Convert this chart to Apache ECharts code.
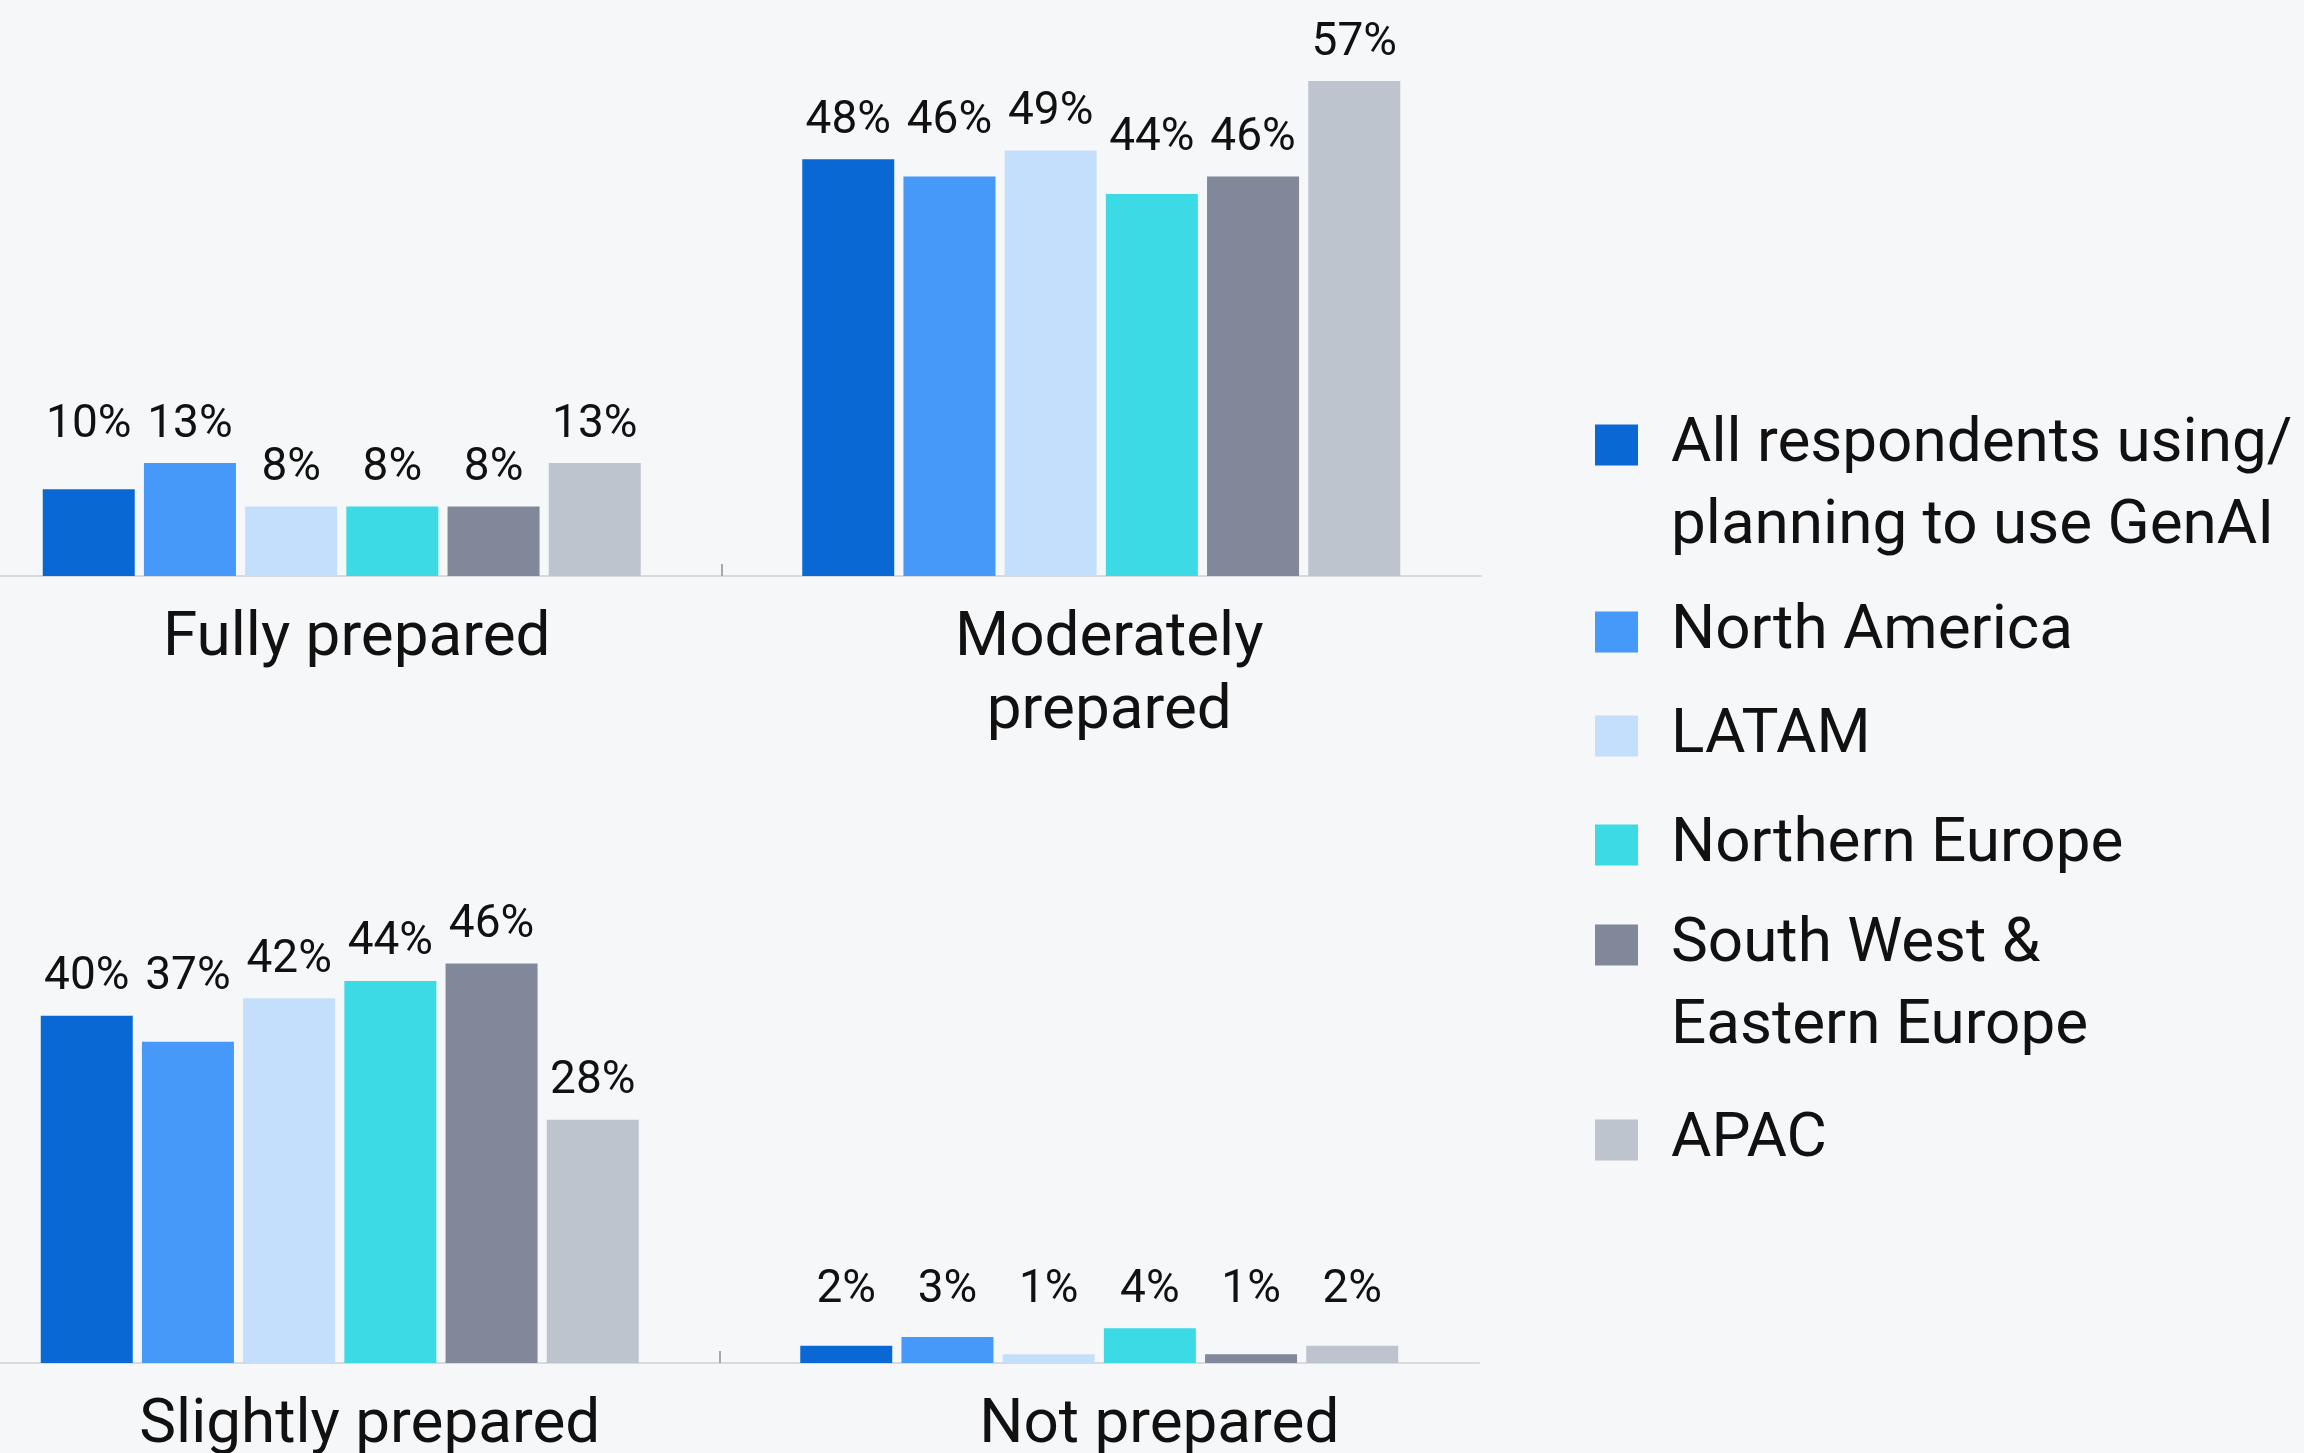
<!DOCTYPE html>
<html><head><meta charset="utf-8">
<script src="https://cdn.jsdelivr.net/npm/echarts@6/dist/echarts.min.js"></script>
<style>html,body{margin:0;padding:0;background:#F6F7F9;} #c{width:2304px;height:1453px;}</style>
</head><body><div id="c"></div>
<script>
// ---- data ----
const categoriesTop = ['Fully prepared', 'Moderately\nprepared'];
const categoriesBottom = ['Slightly prepared', 'Not prepared'];
const seriesNames = ['All respondents using/\nplanning to use GenAI', 'North America', 'LATAM', 'Northern Europe', 'South West &\nEastern Europe', 'APAC'];
// values in order: Fully, Moderately, Slightly, Not prepared
const allRespondents = [10, 48, 40, 2];
const northAmerica = [13, 46, 37, 3];
const latam = [8, 49, 42, 1];
const northernEurope = [8, 44, 44, 4];
const southWestEastEurope = [8, 46, 46, 1];
const apac = [13, 57, 28, 2];
// value level above which each label sits (labels were lifted to line up), per series
const labelLevelAll = [13, 48, 40, 4];
const labelLevelNA = [13, 48, 40, 4];
const labelLevelLatam = [8, 49, 42, 4];
const labelLevelNE = [8, 46, 44, 4];
const labelLevelSWEE = [8, 46, 46, 4];
const labelLevelApac = [13, 57, 28, 4];

const seriesValues = [allRespondents, northAmerica, latam, northernEurope, southWestEastEurope, apac];
const labelLevels = [labelLevelAll, labelLevelNA, labelLevelLatam, labelLevelNE, labelLevelSWEE, labelLevelApac];
const colors = ['#0968D4', '#4698F9', '#C4DFFB', '#3BDAE5', '#808899', '#BDC4CE'];

// ---- layout ----
const FONT = 'Roboto';
const Y_MAX = 60;
const GRID_H = 521;
const pxPerUnit = GRID_H / Y_MAX;
const grids = [
  { left: -38, top: 55, width: 1519, height: GRID_H },
  { left: -40, top: 842, width: 1519, height: GRID_H }
];
const catShiftTop = [30, 16];
const catShiftBottom = [60, 120];

function xAxisFor(gi, cats, shifts) {
  return {
    gridIndex: gi,
    type: 'category',
    position: 'bottom',
    data: cats.map((c, i) => ({ value: c, textStyle: { padding: [0, 0, 0, shifts[i]] } })),
    axisLine: { show: true, lineStyle: { color: '#D9DADC', width: 2 } },
    axisTick: { show: false },
    axisLabel: { fontFamily: FONT, fontSize: 62, lineHeight: 73, color: '#111', margin: 27, interval: 0 },
    splitLine: { show: false }
  };
}
// helper axis that only carries the single divider tick between the two categories
function dividerAxis(gi) {
  return {
    gridIndex: gi,
    type: 'value',
    position: 'bottom',
    min: 0, max: 2, interval: 1,
    axisLine: { show: false },
    axisLabel: { show: false },
    splitLine: { show: false },
    axisTick: { show: true, inside: true, length: 12, customValues: [1], lineStyle: { color: '#A8A8A8', width: 2 } }
  };
}

const series = [];
[0, 1].forEach(gi => {
  seriesNames.forEach((name, s) => {
    const vals = seriesValues[s].slice(gi * 2, gi * 2 + 2);
    const lv = labelLevels[s].slice(gi * 2, gi * 2 + 2);
    series.push({
      type: 'bar',
      name: name,
      xAxisIndex: gi,
      yAxisIndex: gi,
      barWidth: 92,
      barGap: '10%',
      itemStyle: { color: colors[s] },
      label: {
        show: true, position: 'top', distance: 15,
        fontFamily: FONT, fontSize: 46, color: '#111',
        formatter: '{c}%'
      },
      data: vals.map((v, j) => ({ value: v, label: { offset: [0, -(lv[j] - v) * pxPerUnit] } }))
    });
  });
});

const iconCenters = [445, 632, 736, 845, 945, 1140];
const legends = seriesNames.map((name, i) => {
  const twoLine = name.indexOf('\n') >= 0;
  return {
    data: [name],
    left: 1595,
    top: twoLine ? iconCenters[i] - 123 : iconCenters[i] - 41,
    orient: 'vertical',
    padding: 0,
    icon: 'rect',
    itemWidth: 43,
    itemHeight: 41,
    selectedMode: false,
    formatter: twoLine ? (n => '\n' + n) : (n => n),
    textStyle: {
      fontFamily: FONT, fontSize: 62, lineHeight: 82, color: '#111',
      padding: [0, 0, 0, 28]
    }
  };
});

const chart = echarts.init(document.getElementById('c'), null, { renderer: 'canvas' });
chart.setOption({
  backgroundColor: '#F6F7F9',
  animation: false,
  grid: grids.map(g => Object.assign({ outerBoundsMode: 'none', containLabel: false }, g)),
  xAxis: [
    xAxisFor(0, categoriesTop, catShiftTop),
    xAxisFor(1, categoriesBottom, catShiftBottom),
    dividerAxis(0),
    dividerAxis(1)
  ],
  yAxis: [0, 1].map(gi => ({ gridIndex: gi, type: 'value', min: 0, max: Y_MAX, show: false, splitLine: { show: false } })),
  legend: legends,
  series: series
});
</script>
</body></html>
